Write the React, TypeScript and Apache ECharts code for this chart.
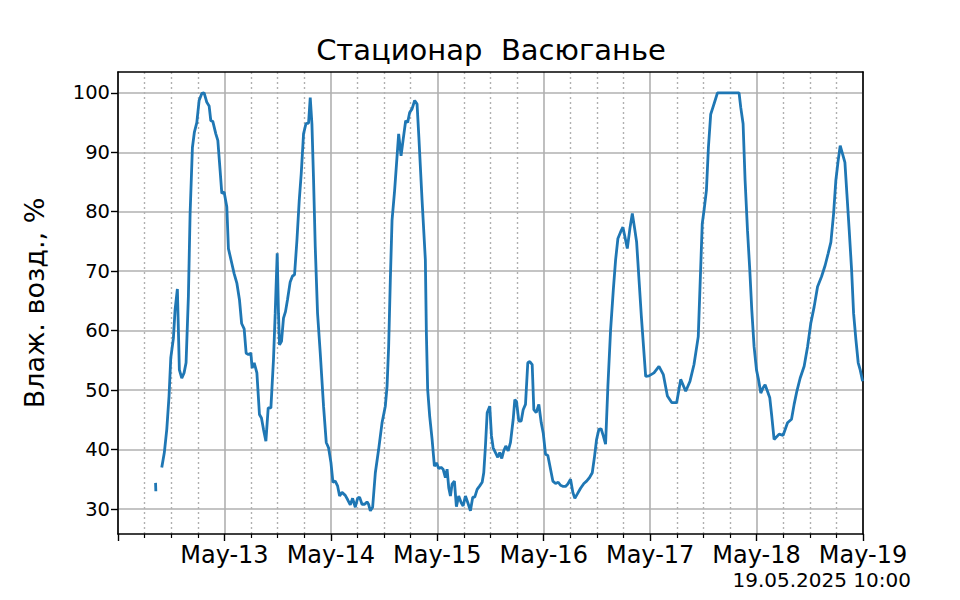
import { useEffect, useRef } from "react";
import * as echarts from "echarts";

const chartTitle = "Стационар  Васюганье";
const yAxisName = "Влаж. возд., %";
const stampText = "19.05.2025 10:00";
const dayLabels = ["May-12", "May-13", "May-14", "May-15", "May-16", "May-17", "May-18", "May-19"];
const yTicks = [30, 40, 50, 60, 70, 80, 90, 100];

// hours since 12 May 00:00
const fragmentHours = [8.47, 8.53];
const fragmentValues = [34.4, 33.0];

const hours = [
  9.87, 10.45, 11.0, 11.51, 11.9, 12.49, 12.87, 13.39, 13.84, 14.38, 14.9, 15.35, 15.87, 16.26, 16.78, 17.23, 17.77, 18.29,
  18.9, 19.42, 20.03, 20.55, 20.93, 21.38, 22.06, 22.51, 23.03, 23.41, 23.93, 24.54, 24.9, 25.67, 26.19, 26.8, 27.39, 27.88,
  28.45, 28.9, 29.42, 29.96, 30.25, 30.71, 31.32, 31.9, 32.35, 32.81, 33.35, 33.87, 34.48, 35.06, 35.45, 35.9, 36.19, 36.42,
  36.87, 37.32, 37.77, 38.22, 38.83, 39.35, 39.81, 40.35, 40.87, 41.32, 41.84, 42.38, 42.97, 43.35, 43.73, 44.1, 44.48, 45.0,
  45.61, 46.35, 46.96, 47.48, 48.02, 48.47, 48.99, 49.51, 49.97, 50.51, 51.25, 51.77, 52.38, 52.9, 53.51, 54.03, 54.48, 55.02,
  55.61, 56.15, 56.51, 56.9, 57.42, 58.03, 58.77, 59.54, 60.28, 60.67, 61.03, 61.41, 61.8, 62.38, 63.29, 63.83, 64.28, 64.87,
  65.32, 65.77, 66.31, 66.9, 67.44, 67.85, 68.57, 69.31, 69.54, 69.83, 70.29, 70.83, 71.35, 71.8, 72.32, 72.86, 73.31, 73.83,
  74.21, 74.58, 74.96, 75.34, 75.86, 76.31, 76.83, 77.37, 77.83, 78.35, 78.87, 79.47, 80.0, 80.45, 80.99, 81.57, 82.12, 82.48,
  82.86, 83.25, 83.83, 84.22, 84.6, 85.12, 85.64, 86.09, 86.54, 86.99, 87.45, 87.99, 88.51, 89.12, 89.48, 89.86, 90.38, 90.92,
  91.37, 91.89, 92.41, 92.86, 93.4, 93.77, 94.31, 94.9, 95.44, 95.89, 96.41, 96.93, 97.54, 98.06, 98.67, 99.28, 99.79, 100.4,
  100.92, 101.44, 102.05, 102.57, 103.02, 103.56, 104.31, 105.06, 105.67, 106.34, 106.95, 107.47, 107.92, 108.44, 108.94,
  109.44, 109.95, 110.47, 111.08, 111.69, 112.21, 112.73, 113.34, 113.86, 114.31, 114.85, 115.44, 115.98, 116.5, 116.95,
  118.01, 118.99, 119.73, 120.86, 121.99, 122.98, 123.89, 124.86, 125.99, 126.89, 128.02, 128.99, 129.89, 130.85, 131.75,
  132.15, 132.69, 133.14, 133.66, 134.05, 134.56, 135.18, 140.05, 140.44, 140.96, 141.41, 141.95, 142.47, 142.92, 143.44,
  143.98, 144.43, 144.95, 145.47, 145.92, 146.46, 146.98, 147.43, 147.95, 149.09, 149.99, 150.98, 151.88, 152.47, 153.08,
  153.82, 154.73, 155.5, 156.24, 156.98, 157.75, 158.66, 159.47, 160.15, 160.76, 161.37, 161.88, 162.4, 162.86, 163.4, 163.92,
  164.37, 164.89, 165.43, 165.88, 166.4, 166.92, 167.37, 167.91,
];

const humidity = [
  37.0, 39.5, 43.4, 49.0, 55.4, 58.7, 63.5, 67.0, 53.4, 52.0, 52.9, 54.6, 65.7, 79.7, 90.8, 93.4, 95.0, 98.7,
  99.9, 100, 98.4, 97.8, 95.3, 95.2, 93.1, 92.0, 86.9, 83.1, 83.3, 80.8, 73.8, 71.3, 69.6, 68.0, 65.2, 61.2,
  60.3, 56.2, 56.0, 56.2, 53.7, 54.6, 52.9, 45.9, 45.3, 43.4, 41.4, 47.0, 47.0, 55.1, 62.9, 73.0, 62.9, 57.6,
  58.2, 62.1, 63.2, 65.2, 68.2, 69.2, 69.4, 75.2, 81.9, 86.4, 93.1, 94.8, 94.9, 99.2, 94.8, 85.3, 74.1, 62.9,
  56.2, 47.3, 41.2, 40.3, 37.8, 34.5, 34.7, 33.9, 32.2, 32.8, 32.3, 31.6, 30.7, 31.8, 30.3, 31.8, 32.0, 30.8,
  30.8, 31.2, 30.8, 29.7, 30.3, 36.1, 40.0, 44.5, 47.3, 50.6, 57.3, 68.5, 78.6, 83.6, 93.1, 89.4, 92.0, 95.3,
  95.0, 96.7, 97.3, 98.7, 98.1, 92.5, 81.9, 71.9, 59.6, 50.1, 45.6, 41.7, 37.2, 37.8, 36.8, 37.0, 36.7, 35.3,
  36.7, 33.6, 32.2, 34.2, 34.7, 30.4, 32.2, 31.1, 30.5, 32.2, 31.1, 29.7, 32.0, 32.0, 33.3, 33.9, 34.5, 36.1,
  40.6, 46.2, 47.3, 42.3, 40.3, 39.5, 38.7, 39.5, 38.5, 39.8, 40.6, 39.8, 41.2, 45.1, 48.4, 48.1, 44.8, 44.8,
  46.7, 47.6, 54.6, 54.8, 54.3, 46.7, 46.2, 47.6, 44.5, 42.8, 39.2, 39.0, 36.7, 34.7, 34.3, 34.5, 34.0, 33.8,
  33.8, 34.2, 35.0, 32.8, 31.8, 32.5, 33.5, 34.3, 34.7, 35.3, 36.1, 38.9, 41.7, 43.4, 43.5,
  42.3, 40.9, 50.6, 60.1, 66.8, 71.9, 75.5, 76.6, 77.4, 75.8, 73.8, 77.2, 79.7, 77.2, 74.9,
  62.5, 52.3, 52.4, 52.9, 54.0, 52.6, 49.0, 47.9, 47.9, 51.8, 49.8, 51.5, 54.3, 59.0, 78.0,
  80.2, 83.6, 90.8, 96.4, 97.3, 98.5, 100, 100, 97.5, 94.8, 85.3, 76.9, 70.2, 63.5, 57.3,
  53.4, 51.8, 49.5, 50.4, 50.9, 49.8, 48.7, 45.6, 41.7, 42.6, 42.4, 44.5, 45.1, 47.6, 49.8,
  52.0, 54.0, 57.3, 61.3, 64.0, 67.4, 69.1, 71.0, 73.0, 74.9, 79.7, 85.3, 88.6, 91.1, 89.7, 88.3,
  83.0, 76.9, 70.2, 62.9, 58.5, 54.6, 53.4, 51.5,
];

const FONT = "DejaVu Sans";

export default function App() {
  const ref = useRef<HTMLDivElement>(null);
  useEffect(() => {
    if (!ref.current) return;
    const chart = echarts.init(ref.current, undefined, { renderer: "svg" });
    const data: any[] = [];
    fragmentHours.forEach((h, i) => data.push([h, fragmentValues[i]]));
    data.push([9.2, "-"]);
    const n = Math.min(hours.length, humidity.length);
    for (let i = 0; i < n; i++) data.push([hours[i], humidity[i]]);

    const yMin = 25.8;
    const yMax = 103.5;
    const gridColor = "#b0b0b0";

    chart.setOption({
      animation: false,
      backgroundColor: "#ffffff",
      grid: { left: 118, right: 97, top: 72, bottom: 66, containLabel: false },
      xAxis: [
        {
          type: "value",
          min: 0,
          max: 168,
          interval: 24,
          axisLine: { show: true, onZero: false, lineStyle: { color: "#000", width: 1.6 } },
          axisTick: { show: true, length: 7, lineStyle: { color: "#000", width: 1.4 } },
          minorTick: { show: true, splitNumber: 4, length: 4, lineStyle: { color: "#000", width: 1.2 } },
          axisLabel: {
            show: true,
            margin: 9,
            fontFamily: FONT,
            fontSize: 24,
            lineHeight: 24,
            color: "#000",
            showMinLabel: false,
            formatter: (v: number) => (v === 0 ? "" : dayLabels[Math.round(v / 24)] ?? ""),
          },
          splitLine: { show: true, lineStyle: { color: gridColor, width: 1.6, type: "solid" } },
          minorSplitLine: { show: true, lineStyle: { color: gridColor, width: 1.4, type: [2, 3] } },
        },
        {
          type: "value",
          position: "top",
          min: 0,
          max: 168,
          axisLine: { show: true, onZero: false, lineStyle: { color: "#000", width: 1.6 } },
          axisTick: { show: false },
          axisLabel: { show: false },
          splitLine: { show: false },
        },
      ],
      yAxis: [
        {
          type: "value",
          min: yMin,
          max: yMax,
          name: yAxisName,
          nameLocation: "middle",
          nameRotate: 90,
          nameGap: 70,
          nameTextStyle: { fontFamily: FONT, fontSize: 27, color: "#000" },
          axisLine: { show: true, onZero: false, lineStyle: { color: "#000", width: 1.6 } },
          axisTick: { show: true, length: 7, customValues: yTicks, lineStyle: { color: "#000", width: 1.4 } },
          axisLabel: {
            show: true,
            customValues: yTicks,
            margin: 8,
            fontFamily: FONT,
            fontSize: 19.5,
            color: "#000",
          },
          splitLine: { show: true, lineStyle: { color: gridColor, width: 1.6 } },
        },
        {
          type: "value",
          position: "right",
          min: yMin,
          max: yMax,
          axisLine: { show: true, onZero: false, lineStyle: { color: "#000", width: 1.6 } },
          axisTick: { show: false },
          axisLabel: { show: false },
          splitLine: { show: false },
        },
      ],
      graphic: [
        {
          type: "text",
          x: 491,
          y: 50,
          style: {
            text: chartTitle,
            textAlign: "center",
            textVerticalAlign: "middle",
            font: `29px "${FONT}"`,
            fill: "#000",
          },
        },
        {
          type: "text",
          x: 911,
          y: 580,
          style: {
            text: stampText,
            textAlign: "right",
            textVerticalAlign: "middle",
            font: `20px "${FONT}"`,
            lineHeight: 20,
            fill: "#000",
          },
        },
      ],
      series: [
        {
          type: "line",
          data,
          showSymbol: false,
          connectNulls: false,
          lineStyle: { color: "#1f77b4", width: 2.8 },
          itemStyle: { color: "#1f77b4" },
          clip: true,
          z: 5,
        },
      ],
    });
    return () => chart.dispose();
  }, []);
  return (
    <div
      ref={ref}
      style={{ position: "fixed", left: 0, top: 0, width: 960, height: 600, background: "#fff" }}
    />
  );
}
